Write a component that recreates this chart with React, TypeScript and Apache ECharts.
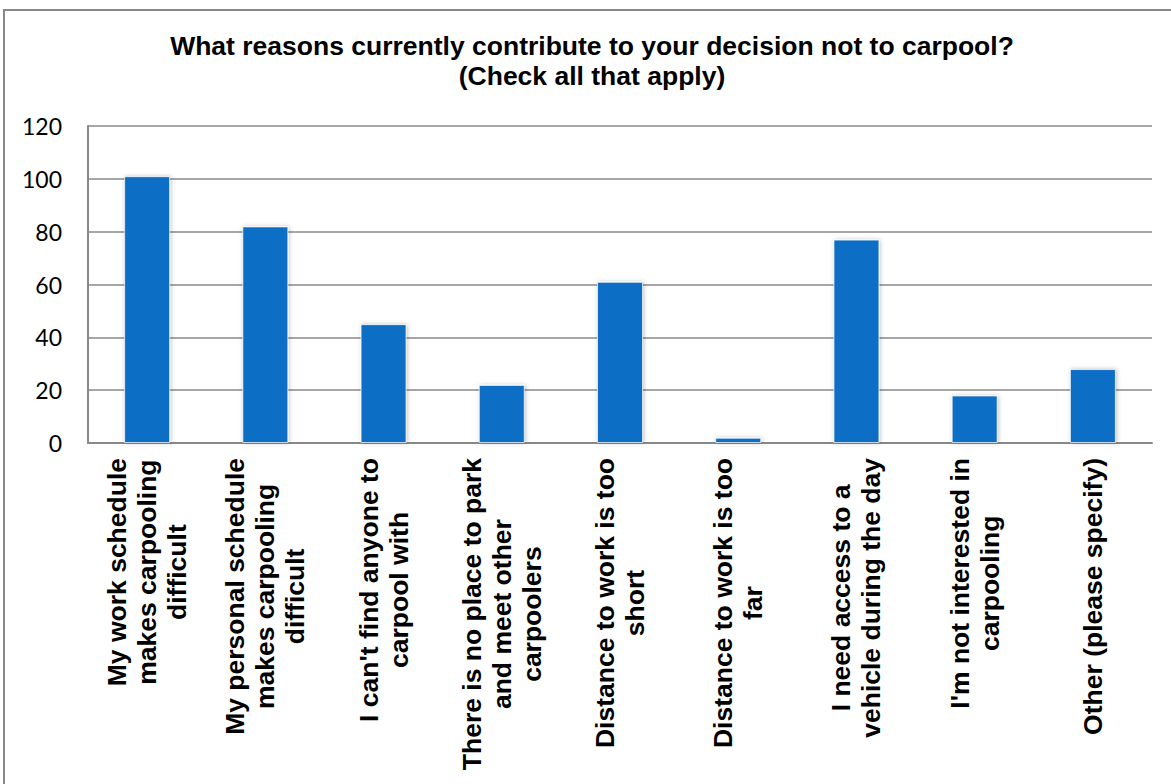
import React, { useEffect, useRef } from "react";
import * as echarts from "echarts";

const categories: string[] = [
  "My work schedule\nmakes carpooling\ndifficult",
  "My personal schedule\nmakes carpooling\ndifficult",
  "I can't find anyone to\ncarpool with",
  "There is no place to park\nand meet other\ncarpoolers",
  "Distance to work is too\nshort",
  "Distance to work is too\nfar",
  "I need access to a\nvehicle during the day",
  "I'm not interested in\ncarpooling",
  "Other (please specify)",
];
const values: number[] = [101, 82, 45, 22, 61, 2, 77, 18, 28];
const titleLines: string[] = [
  "What reasons currently contribute to your decision not to carpool?",
  "(Check all that apply)",
];
const yMin = 0;
const yMax = 120;
const yStep = 20;

export default function App() {
  const ref = useRef<HTMLDivElement>(null);
  useEffect(() => {
    if (!ref.current) return;
    const chart = echarts.init(ref.current, null, { renderer: "svg" });
    chart.setOption({
      animation: false,
      backgroundColor: "#ffffff",
      graphic: [
        {
          type: "rect",
          shape: { x: 4, y: 10, width: 1220, height: 820 },
          style: { fill: "none", stroke: "#888888", lineWidth: 2 },
          silent: true,
        },
        {
          type: "text",
          x: 592,
          y: 31,
          style: {
            text: titleLines.join("\n"),
            align: "center",
            verticalAlign: "top",
            fontFamily: "Liberation Sans",
            fontWeight: "bold",
            fontSize: 26.5,
            lineHeight: 30,
            fill: "#000000",
          },
        },
      ],
      grid: { left: 88, right: 19, top: 126, bottom: 341, containLabel: false },
      xAxis: {
        type: "category",
        data: categories,
        axisLine: { show: true, lineStyle: { color: "#888888", width: 2 } },
        axisTick: { show: false },
        axisLabel: {
          interval: 0,
          rotate: 90,
          margin: 15,
          formatter: (v: string) =>
            v
              .split("\n")
              .map((l) => `{a|${l}}`)
              .join("\n"),
          rich: {
            a: {
              fontFamily: "Liberation Sans",
              fontWeight: "bold",
              fontSize: 26.5,
              lineHeight: 30,
              align: "center",
              color: "#000000",
            },
          },
        },
      },
      yAxis: {
        type: "value",
        min: yMin,
        max: yMax,
        interval: yStep,
        axisLine: { show: true, lineStyle: { color: "#888888", width: 2 } },
        axisTick: { show: false },
        splitLine: { show: true, lineStyle: { color: "#888888", width: 1.5 } },
        axisLabel: {
          margin: 26,
          fontFamily: "Lato",
          fontSize: 23,
          color: "#000000",
        },
      },
      series: [
        {
          type: "bar",
          data: values,
          barWidth: 46,
          itemStyle: {
            color: "#106EC6",
            borderColor: "rgba(255,255,255,0.7)",
            borderWidth: 1,
            shadowBlur: 4,
            shadowColor: "rgba(0,0,0,0.25)",
            shadowOffsetX: 1,
            shadowOffsetY: 0,
          },
        },
      ],
    });
    return () => chart.dispose();
  }, []);
  return (
    <div
      ref={ref}
      style={{ position: "fixed", left: 0, top: 0, width: 1171, height: 784 }}
    />
  );
}
